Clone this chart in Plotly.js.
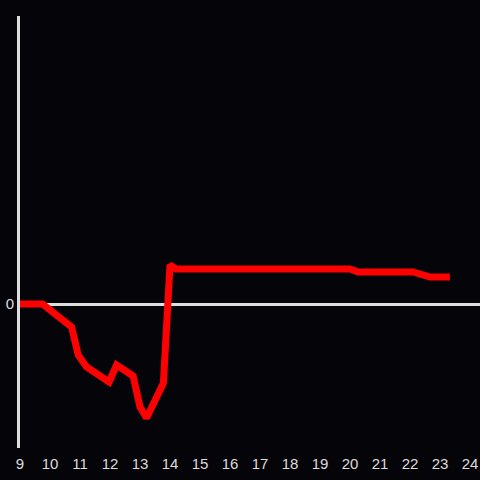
<!DOCTYPE html>
<html>
<head>
<meta charset="utf-8">
<script src="https://cdn.plot.ly/plotly-3.0.1.min.js"></script>
<style>html,body{margin:0;padding:0;background:#050408;}</style>
</head>
<body>
<div id="chart" style="width:480px;height:480px;"></div>
<script>
const hours = [9, 9.75, 10.72, 10.94, 11.22, 11.97, 12.22, 12.77, 13.0, 13.22, 13.78, 14.0, 14.2, 20.0, 20.27, 22.1, 22.67, 23.33];
const values = [0, 0, -2.3, -5.1, -6.3, -7.8, -6.1, -7.2, -10.3, -11.4, -7.9, 3.9, 3.5, 3.5, 3.2, 3.2, 2.7, 2.7];
const xTicks = [9,10,11,12,13,14,15,16,17,18,19,20,21,22,23,24];
const yTicks = [0];

Plotly.newPlot('chart', [{
  x: hours, y: values, type: 'scatter', mode: 'lines',
  line: {color: '#ff0000', width: 7},
  hoverinfo: 'skip'
}], {
  width: 480, height: 480,
  margin: {l: 20, r: 0, t: 16, b: 32},
  paper_bgcolor: '#050408', plot_bgcolor: '#050408',
  font: {family: 'Liberation Sans, Arial, sans-serif', size: 15, color: '#dddddd'},
  showlegend: false,
  xaxis: {range: [9, 24 + 1/3], tickvals: xTicks, ticktext: xTicks.map(String), tickfont: {size: 15}, showgrid: false, zeroline: false, showline: false, ticks: 'outside', ticklen: 2, tickcolor: 'rgba(0,0,0,0)', fixedrange: true},
  yaxis: {range: [-14.4, 28.8], tickvals: yTicks, ticktext: ['0'], tickfont: {size: 15}, showgrid: false, zeroline: true, zerolinecolor: '#dddddd', zerolinewidth: 3, showline: true, linecolor: '#dddddd', linewidth: 3, ticks: '', fixedrange: true},
}, {displayModeBar: false, staticPlot: true});
</script>
</body>
</html>
